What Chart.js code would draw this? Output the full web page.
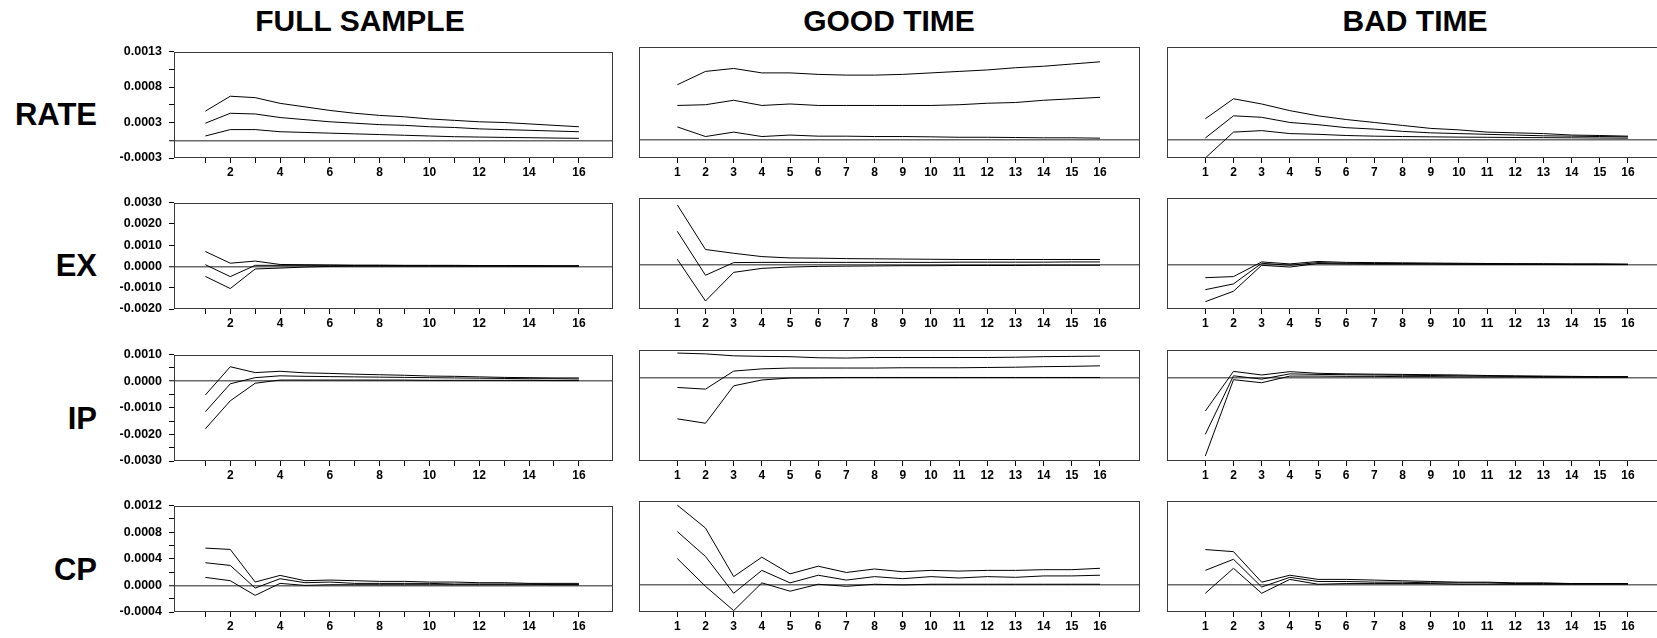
<!DOCTYPE html>
<html><head><meta charset="utf-8">
<script src="https://cdn.jsdelivr.net/npm/chart.js@4.4.1/dist/chart.umd.min.js"></script>
<style>
html,body{margin:0;padding:0;background:#fff;overflow:hidden;width:1657px;height:638px;}
#wrap{position:relative;width:1657px;height:638px;overflow:hidden;background:#fff;}
.ttl{position:absolute;font-family:"Liberation Sans",Arial,sans-serif;font-weight:bold;color:#000;white-space:nowrap;font-size:30px;line-height:30px;}
.rowlbl{font-size:31px;line-height:31px;}
canvas{position:absolute;}
</style></head><body><div id="wrap"></div>
<script>
// ---------- categories / labels ----------
const horizons = [1,2,3,4,5,6,7,8,9,10,11,12,13,14,15,16];
const columnTitles = ['FULL SAMPLE','GOOD TIME','BAD TIME'];
const rowNames = ['RATE','EX','IP','CP'];
const fullXLabels = ['','2','','4','','6','','8','','10','','12','','14','','16'];
const subXLabels = ['1','2','3','4','5','6','7','8','9','10','11','12','13','14','15','16'];

const rateTickValues = [-0.00025,0,0.00025,0.0005,0.00075,0.001,0.00125];
const rateTickLabels = ['-0.0003','','0.0003','','0.0008','','0.0013'];
const exTickValues = [-0.002,-0.001,0,0.001,0.002,0.003];
const exTickLabels = ['-0.0020','-0.0010','0.0000','0.0010','0.0020','0.0030'];
const ipTickValues = [-0.003,-0.0025,-0.002,-0.0015,-0.001,-0.0005,0,0.0005,0.001];
const ipTickLabels = ['-0.0030','','-0.0020','','-0.0010','','0.0000','','0.0010'];
const cpTickValues = [-0.0004,-0.0002,0,0.0002,0.0004,0.0006,0.0008,0.001,0.0012];
const cpTickLabels = ['-0.0004','','0.0000','','0.0004','','0.0008','','0.0012'];

// ---------- RATE ----------
const rateFullUp  = [0.00041,0.00062,0.00060,0.00052,0.00047,0.00042,0.00038,0.00035,0.00033,0.00030,0.00028,0.00026,0.00025,0.00023,0.00021,0.00019];
const rateFullMid = [0.00024,0.00038,0.00037,0.00032,0.00029,0.00026,0.00024,0.00022,0.00021,0.00019,0.00018,0.00016,0.00015,0.00014,0.00013,0.00012];
const rateFullLow = [0.00006,0.00015,0.00015,0.00012,0.00011,0.00010,0.00009,0.00008,0.00007,0.00006,0.00005,0.000045,0.00004,0.000036,0.000031,0.000027];
const rateGoodUp  = [0.00074,0.00092,0.00096,0.00090,0.00090,0.00088,0.00087,0.00087,0.00088,0.00090,0.00092,0.00094,0.00097,0.00099,0.00102,0.00105];
const rateGoodMid = [0.00046,0.00047,0.00053,0.00046,0.00048,0.00046,0.00046,0.00046,0.00046,0.00046,0.00047,0.00049,0.00050,0.00053,0.00055,0.00057];
const rateGoodLow = [0.00017,0.00004,0.00010,0.00004,0.00006,0.000045,0.000045,0.00004,0.00004,0.000036,0.00003,0.00003,0.000027,0.000023,0.000023,0.000018];
const rateBadUp   = [0.00028,0.00055,0.00048,0.00039,0.00032,0.00027,0.00023,0.00019,0.00015,0.00013,0.00010,0.00009,0.00008,0.00006,0.000054,0.000045];
const rateBadMid  = [0.00002,0.00032,0.00030,0.00023,0.00020,0.00016,0.00014,0.00011,0.00009,0.00008,0.00007,0.00006,0.00005,0.000045,0.00004,0.000036];
const rateBadLow  = [-0.00025,0.00010,0.00012,0.00008,0.00007,0.000054,0.000045,0.00004,0.000036,0.000032,0.00003,0.000027,0.000025,0.000023,0.00002,0.000018];

// ---------- EX ----------
const exFullUp  = [0.00070,0.00015,0.00025,0.00009,0.00008,0.00007,0.00006,0.00006,0.00005,0.00005,0.00005,0.00004,0.00004,0.00004,0.00003,0.00003];
const exFullMid = [0.00008,-0.00048,0.00005,0.00005,0.00005,0.00005,0.00004,0.00004,0.00004,0.00003,0.00003,0.00003,0.00003,0.00002,0.00002,0.00002];
const exFullLow = [-0.00047,-0.00104,-0.00012,-0.00008,-0.00003,0.0,0.00001,0.00001,0.00001,0.00001,0.00001,0.00001,0.00001,0.00001,0.00001,0.00001];
const exGoodUp  = [0.00269,0.00068,0.00051,0.00036,0.00030,0.00029,0.00027,0.00026,0.00025,0.00024,0.00023,0.00023,0.00023,0.00023,0.00023,0.00023];
const exGoodMid = [0.00150,-0.00048,0.00009,0.00010,0.00010,0.00010,0.00010,0.00010,0.00010,0.00010,0.00011,0.00011,0.00011,0.00011,0.00012,0.00012];
const exGoodLow = [0.00024,-0.00164,-0.00035,-0.00017,-0.00011,-0.00008,-0.00007,-0.00006,-0.00005,-0.00005,-0.00004,-0.00004,-0.00004,-0.00003,-0.00003,-0.00003];
const exBadUp   = [-0.00059,-0.00054,0.00012,0.00003,0.00014,0.00010,0.00009,0.00008,0.00007,0.00006,0.00005,0.00004,0.00004,0.00003,0.00003,0.00002];
const exBadMid  = [-0.00113,-0.00087,0.00006,-0.00003,0.00009,0.00006,0.00005,0.00005,0.00004,0.00004,0.00003,0.00003,0.00002,0.00002,0.00002,0.00001];
const exBadLow  = [-0.00167,-0.00120,-0.00003,-0.00011,0.00005,0.00003,0.00002,0.00002,0.00002,0.00001,0.00001,0.00001,0.00001,0.0,0.0,0.0];

// ---------- IP ----------
const ipFullUp  = [-0.00052,0.00054,0.00032,0.00037,0.00031,0.00029,0.00026,0.00024,0.00022,0.00019,0.00018,0.00016,0.00014,0.00013,0.00012,0.00012];
const ipFullMid = [-0.00115,-0.00010,0.00013,0.00020,0.00018,0.00017,0.00016,0.00015,0.00014,0.00013,0.00012,0.00011,0.00010,0.00009,0.00009,0.00008];
const ipFullLow = [-0.00179,-0.00074,-0.00008,0.00004,0.00004,0.00004,0.00004,0.00004,0.00004,0.00003,0.00003,0.00003,0.00003,0.00003,0.00002,0.00002];
const ipGoodUp  = [0.00089,0.00086,0.00079,0.00077,0.00076,0.00072,0.00071,0.00073,0.00073,0.00073,0.00073,0.00073,0.00074,0.00076,0.00077,0.00078];
const ipGoodMid = [-0.00035,-0.00041,0.00024,0.00032,0.00035,0.00035,0.00035,0.00035,0.00036,0.00036,0.00036,0.00037,0.00038,0.00040,0.00041,0.00043];
const ipGoodLow = [-0.00148,-0.00164,-0.00029,-0.00008,-0.00001,0.0,0.00001,0.00001,0.00001,0.00001,0.00001,0.00001,0.00001,0.00001,0.00001,0.00001];
const ipBadUp   = [-0.00120,0.00023,0.00010,0.00022,0.00016,0.00014,0.00013,0.00012,0.00011,0.00010,0.00008,0.00007,0.00006,0.00005,0.00004,0.00004];
const ipBadMid  = [-0.00204,0.00007,-0.00005,0.00014,0.00012,0.00011,0.00010,0.00009,0.00008,0.00007,0.00006,0.00005,0.00004,0.00004,0.00003,0.00003];
const ipBadLow  = [-0.00282,-0.00007,-0.00018,0.00006,0.00006,0.00005,0.00005,0.00004,0.00004,0.00003,0.00003,0.00003,0.00002,0.00002,0.00002,0.00002];

// ---------- CP ----------
const cpFullUp  = [0.00056,0.00054,0.00005,0.00015,0.00007,0.00008,0.00007,0.00006,0.00006,0.00005,0.00005,0.00004,0.00004,0.00003,0.00003,0.00003];
const cpFullMid = [0.00034,0.00030,-0.00004,0.00010,0.00004,0.00005,0.00003,0.00003,0.00003,0.00003,0.00002,0.00002,0.00002,0.00002,0.00001,0.00001];
const cpFullLow = [0.00012,0.00007,-0.00015,0.00003,0.0,0.00001,0.00001,0.00001,0.00001,0.00001,0.00001,0.00001,0.00001,0.00001,0.00001,0.00001];
const cpGoodUp  = [0.00114,0.00081,0.00011,0.00039,0.00015,0.00026,0.00017,0.00022,0.00018,0.00020,0.00019,0.00020,0.00020,0.00021,0.00021,0.00023];
const cpGoodMid = [0.00076,0.00040,-0.00013,0.00020,0.00002,0.00013,0.00006,0.00011,0.00008,0.00011,0.00009,0.00011,0.00010,0.00012,0.00012,0.00013];
const cpGoodLow = [0.00037,-0.00003,-0.00038,0.00002,-0.00010,0.0,-0.00003,0.0,-0.00001,0.0,0.0,0.0,0.0,0.0,0.0,0.0];
const cpBadUp   = [0.00050,0.00047,0.00003,0.00013,0.00007,0.00007,0.00006,0.00005,0.00004,0.00003,0.00003,0.00002,0.00002,0.00001,0.00001,0.00001];
const cpBadMid  = [0.00020,0.00036,-0.00004,0.00010,0.00004,0.00004,0.00003,0.00003,0.00002,0.00002,0.00002,0.00001,0.00001,0.00001,0.00001,0.00001];
const cpBadLow  = [-0.00013,0.00023,-0.00013,0.00007,0.0,0.00001,0.00001,0.00001,0.00001,0.0,0.0,0.0,0.0,0.0,0.0,0.0];

// ---------- assembly ----------
const panels = [
  [[rateFullUp,rateFullMid,rateFullLow],[rateGoodUp,rateGoodMid,rateGoodLow],[rateBadUp,rateBadMid,rateBadLow]],
  [[exFullUp,exFullMid,exFullLow],[exGoodUp,exGoodMid,exGoodLow],[exBadUp,exBadMid,exBadLow]],
  [[ipFullUp,ipFullMid,ipFullLow],[ipGoodUp,ipGoodMid,ipGoodLow],[ipBadUp,ipBadMid,ipBadLow]],
  [[cpFullUp,cpFullMid,cpFullLow],[cpGoodUp,cpGoodMid,cpGoodLow],[cpBadUp,cpBadMid,cpBadLow]]
];
const rowTickValues = [rateTickValues, exTickValues, ipTickValues, cpTickValues];
const rowTickLabels = [rateTickLabels, exTickLabels, ipTickLabels, cpTickLabels];

// layout (pixels)
const colLeft = [174, 639, 1167];
const colWidth = [439, 501, 501];
const rowTop = [47, 198, 350, 501];
const rowHeight = [111, 111, 111, 111];
const xMin = [-0.26, -0.36, -0.36];
const xMax = [17.37, 17.42, 17.42];
const titleCenters = [360, 889, 1415];
const titleY = 21;
const rowLabelRight = 97;
const rowLabelY = [114, 265, 418, 569];

const FONT = '"Liberation Sans", Arial, sans-serif';
const wrap = document.getElementById('wrap');

columnTitles.forEach((t,i)=>{
  const d=document.createElement('div'); d.className='ttl'; d.textContent=t;
  d.style.left=(titleCenters[i]-250)+'px'; d.style.width='500px'; d.style.textAlign='center';
  d.style.top=(titleY-14.6)+'px'; wrap.appendChild(d);
});
rowNames.forEach((t,i)=>{
  const d=document.createElement('div'); d.className='ttl rowlbl'; d.textContent=t;
  d.style.left=(rowLabelRight-200)+'px'; d.style.width='200px'; d.style.textAlign='right';
  d.style.top=(rowLabelY[i]-15.1)+'px'; wrap.appendChild(d);
});

const framePlugin = {
  id:'frame',
  afterDatasetsDraw(chart){
    const a=chart.chartArea, g=chart.ctx;
    g.save(); g.strokeStyle='#3c3c3c'; g.lineWidth=1;
    const l=Math.round(a.left)+0.5, t=Math.round(a.top)+0.5, r=Math.round(a.right)-0.5, b=Math.round(a.bottom)-0.5;
    g.strokeRect(l,t,r-l,b-t); g.restore();
  }
};

function makePanel(r,c){
  const yw = c===0?70:0, padL=2, padT=10, padR=6, xh=28;
  const W=colWidth[c], H=rowHeight[r];
  const cw=padL+yw+W+padR, ch=padT+H+xh;
  const cv=document.createElement('canvas');
  cv.width=cw; cv.height=ch; cv.style.width=cw+'px'; cv.style.height=ch+'px';
  cv.style.left=(colLeft[c]-yw-padL)+'px'; cv.style.top=(rowTop[r]-padT)+'px';
  wrap.appendChild(cv);
  const tv=rowTickValues[r], tl=rowTickLabels[r];
  const xl = c===0?fullXLabels:subXLabels;
  new Chart(cv,{
    type:'line',
    data:{datasets: panels[r][c].map(arr=>({
      data: arr.map((v,i)=>({x:horizons[i],y:v})),
      borderColor:'#000', borderWidth:1, pointRadius:0, tension:0, fill:false
    }))},
    options:{
      responsive:false, animation:false, events:[],
      layout:{padding:{left:padL,top:padT,right:padR,bottom:0}},
      plugins:{legend:{display:false},tooltip:{enabled:false},title:{display:false}},
      scales:{
        x:{type:'linear', min:xMin[c], max:xMax[c],
           afterBuildTicks:s=>{s.ticks=horizons.map(v=>({value:v}));},
           afterFit:s=>{s.height=xh;},
           grid:{drawOnChartArea:false, drawTicks:true, tickLength:5, tickColor:'#000', tickWidth:1},
           border:{display:false},
           ticks:{color:'#000', font:{family:FONT,size:12,weight:'bold'}, padding:2, maxRotation:0, minRotation:0, autoSkip:false,
                  callback:(v,i)=>xl[i]}},
        y:{type:'linear', min:tv[0], max:tv[tv.length-1],
           afterBuildTicks:s=>{s.ticks=tv.map(v=>({value:v}));},
           afterFit:s=>{s.width=yw;},
           grid:{color:ctx=>(ctx.tick && ctx.tick.value===0)?'#6a6a6a':'rgba(0,0,0,0)',
                 lineWidth:ctx=>(ctx.tick && ctx.tick.value===0)?1.5:1,
                 drawTicks:c===0, tickLength:5, tickColor:'#000', tickWidth:1},
           border:{display:false},
           ticks:{display:c===0, color:'#000', font:{family:FONT,size:12.5,weight:'bold'}, padding:7, autoSkip:false,
                  callback:(v,i)=>tl[i]}}
      }
    },
    plugins:[framePlugin]
  });
}
for(let r=0;r<4;r++) for(let c=0;c<3;c++) makePanel(r,c);
</script></body></html>
